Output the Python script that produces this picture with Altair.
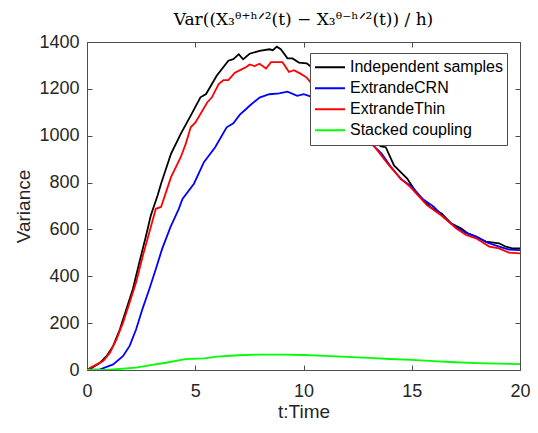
import altair as alt
import pandas as pd

# ---- data ----
t_indep = [0, 0.23, 0.61, 0.91, 1.21, 1.52, 1.82, 2.12, 2.42, 2.73, 2.95, 3.08, 3.26, 3.42, 3.88,
           4.33, 4.79, 5.24, 5.5, 5.99, 6.53, 6.76, 7.01, 7.21, 7.51, 7.97, 8.42, 8.58, 8.77,
           8.95, 9.26, 9.49, 9.79, 10.15, 10.39, 10.6, 10.8, 11.0, 11.3, 11.6, 11.9, 12.2, 12.51,
           13.12, 13.58, 13.8, 14.18, 14.79, 15.24, 15.85, 16.38, 16.83, 17.29, 17.59, 17.97,
           18.42, 19.03, 19.33, 19.64, 20]
v_indep = [0, 10, 31, 60, 103, 174, 260, 346, 460, 574, 660, 696, 745, 795, 923,
           1008, 1086, 1164, 1178, 1256, 1320, 1327, 1348, 1326, 1350, 1362, 1369, 1365, 1380,
           1369, 1330, 1330, 1312, 1309, 1291, 1275, 1255, 1230, 1195, 1160, 1120, 1075, 1022,
           986, 954, 951, 873, 817, 753, 696, 668, 625, 604, 583, 569,
           548, 541, 527, 519, 519]

t_crn = [0, 0.61, 1.21, 1.67, 1.97, 2.27, 2.56, 2.88, 3.18, 3.47, 3.85, 4.24, 4.41, 4.94, 5.4,
         5.92, 6.45, 6.76, 7.06, 7.35, 7.51, 7.97, 8.42, 8.88, 9.26, 9.71, 10.01, 10.38,
         10.6, 10.9, 11.2, 11.5, 11.8, 12.1, 12.4, 12.7, 13.1, 13.6, 14.0, 14.5, 15.0, 15.5,
         16.0, 16.5, 17.0, 17.5, 18.0, 18.5, 19.0, 19.5, 20]
v_crn = [0, 3, 24, 60, 103, 174, 260, 346, 431, 517, 609, 688, 730, 795, 887,
         951, 1036, 1053, 1090, 1114, 1128, 1163, 1177, 1181, 1188, 1170, 1177, 1166,
         1158, 1140, 1118, 1095, 1065, 1035, 1008, 990, 968, 925, 872, 815, 782, 730,
         698, 650, 612, 585, 568, 543, 528, 514, 512]

t_thin = [0, 0.15, 0.45, 0.76, 1.06, 1.36, 1.67, 1.97, 2.27, 2.58, 2.88, 3.18, 3.42, 3.88,
          4.33, 4.56, 4.79, 5.01, 5.55, 5.77, 6.08, 6.3, 6.53, 6.83, 7.14, 7.36, 7.51, 7.74,
          7.97, 8.27, 8.5, 9.03, 9.33, 9.56, 9.86, 10.15, 10.38, 10.6, 10.9, 11.2, 11.5, 11.8,
          12.1, 12.4, 12.67, 13.12, 13.95, 14.49, 14.94, 15.7, 16.45, 17.06, 17.51, 17.97,
          18.58, 19.03, 19.49, 20]
v_thin = [0, 10, 24, 39, 74, 131, 203, 288, 374, 488, 588, 688, 696, 823,
          908, 965, 1036, 1057, 1142, 1164, 1220, 1237, 1237, 1269, 1283, 1293, 1304, 1297,
          1307, 1287, 1314, 1314, 1272, 1280, 1265, 1248, 1222, 1210, 1180, 1150, 1115, 1080,
          1045, 1015, 1001, 972, 873, 817, 781, 704, 654, 604, 576, 562,
          527, 519, 501, 498]

t_stack = [0, 0.9, 2.27, 3.0, 3.64, 4.55, 5.42, 6.0, 7.0, 8.0, 9.0, 10.0, 11.0, 12.0, 13.0,
           14.0, 15.0, 16.0, 17.0, 18.0, 19.0, 20.0]
v_stack = [0, 0, 10, 22, 31, 46, 50, 57, 63, 66, 66, 64, 60, 56, 52,
           47, 43, 38, 33, 29, 27, 25]

series_names = ["Independent samples", "ExtrandeCRN", "ExtrandeThin", "Stacked coupling"]
series_colors = ["#000000", "#0000ff", "#ff0000", "#00ff00"]
x_ticks = [0, 5, 10, 15, 20]
y_ticks = [0, 200, 400, 600, 800, 1000, 1200, 1400]

rows = []
for name, ts, vs in zip(series_names, [t_indep, t_crn, t_thin, t_stack],
                        [v_indep, v_crn, v_thin, v_stack]):
    for t, v in zip(ts, vs):
        rows.append({"t": t, "v": v, "series": name})
df = pd.DataFrame(rows)

FONT = "Liberation Sans"
AX = "#262626"
FR = "#4d4d4d"

base = alt.Chart(df)

lines = base.mark_line(strokeWidth=1.8, clip=True).encode(
    x=alt.X("t:Q", scale=alt.Scale(domain=[0, 20], nice=False),
            axis=alt.Axis(orient="bottom", values=x_ticks, title="t:Time", offset=-5,
                          tickSize=5, labelPadding=12, titlePadding=2, domain=False,
                          grid=False, tickColor=FR, labelFlush=False, format="d")),
    y=alt.Y("v:Q", scale=alt.Scale(domain=[0, 1400], nice=False),
            axis=alt.Axis(orient="left", values=y_ticks, title="Variance", offset=-5,
                          tickSize=5, labelPadding=8, titlePadding=5, domain=False,
                          grid=False, tickColor=FR, labelFlush=False, format="d")),
    color=alt.Color("series:N",
                    scale=alt.Scale(domain=series_names, range=series_colors),
                    sort=series_names,
                    legend=alt.Legend(title=None, orient="none", legendX=223, legendY=11,
                                      symbolType="stroke", symbolSize=900,
                                      symbolStrokeWidth=2, labelFont=FONT, labelFontSize=16,
                                      labelColor="#000000", labelOffset=4, padding=4,
                                      strokeColor=FR, fillColor="#ffffff", rowPadding=0,
                                      clipHeight=20.5, labelLimit=300)),
    order="t:Q",
)

frame = base.mark_line(opacity=0).encode(
    x=alt.X("t:Q", scale=alt.Scale(domain=[0, 20], nice=False),
            axis=alt.Axis(orient="top", values=x_ticks, title=None, labels=False, offset=-5,
                          tickSize=5, domain=False, grid=False, tickColor=FR)),
    y=alt.Y("v:Q", scale=alt.Scale(domain=[0, 1400], nice=False),
            axis=alt.Axis(orient="right", values=y_ticks, title=None, labels=False, offset=-5,
                          tickSize=5, domain=False, grid=False, tickColor=FR)),
    detail="series:N",
)

chart = alt.layer(lines, frame).resolve_axis(x="independent", y="independent").properties(
    width=433, height=328,
    title=alt.Title("Var((X₃ᶿ⁺ʰᐟ²(t) − X₃ᶿ⁻ʰᐟ²(t)) / h)", font="DejaVu Serif", fontSize=17,
                    fontWeight="normal", color="#000000", offset=4),
    autosize=alt.AutoSizeParams(type="none"),
    padding={"left": 79, "top": 34, "right": 10, "bottom": 50},
).configure_view(stroke=FR, strokeWidth=1).configure_axis(
    labelFont=FONT, labelFontSize=18, labelColor=AX,
    titleFont=FONT, titleFontSize=19, titleColor=AX, titleFontWeight="normal",
)

chart.save("out.html", embed_options={"renderer": "svg", "actions": False})
